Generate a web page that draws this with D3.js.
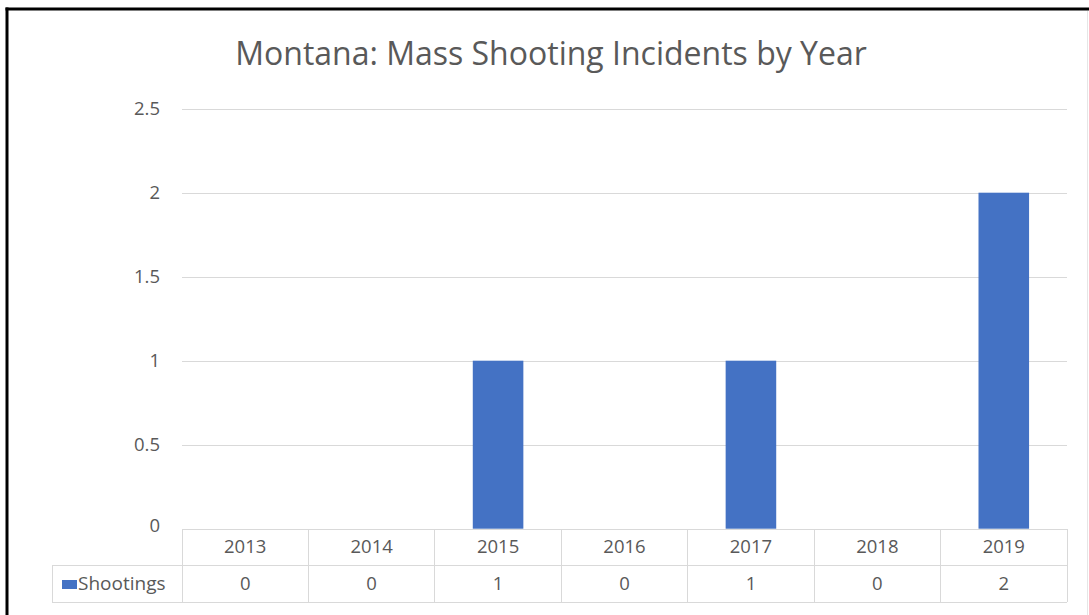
<!DOCTYPE html>
<html><head><meta charset="utf-8">
<script src="https://cdn.jsdelivr.net/npm/d3@7"></script>
<style>
html,body{margin:0;padding:0;background:#fff;}
svg{display:block;}
text{font-family:"Open Sans",sans-serif;fill:#595959;}
</style></head>
<body>
<script>
const title = "Montana: Mass Shooting Incidents by Year";
const years = ["2013","2014","2015","2016","2017","2018","2019"];
const shootings = [0,0,1,0,1,0,2];
const seriesName = "Shootings";
const yTicks = [0,0.5,1,1.5,2,2.5];

const W = 1089, H = 615;
const svg = d3.select("body").append("svg").attr("width",W).attr("height",H);
svg.append("rect").attr("width",W).attr("height",H).attr("fill","#fff");

// frame (screenshot border)
svg.append("line").attr("x1",5.5).attr("x2",W).attr("y1",9).attr("y2",9).attr("stroke","#000").attr("stroke-width",3);
svg.append("line").attr("x1",7).attr("x2",7).attr("y1",7.5).attr("y2",H).attr("stroke","#000").attr("stroke-width",3);
svg.append("line").attr("x1",1087.5).attr("x2",1087.5).attr("y1",11).attr("y2",H).attr("stroke","#e6e6e6").attr("stroke-width",1);

const pLeft = 182, pRight = 1067, pTop = 108.7, pBottom = 528.7;
const fs = 18.5;
const x = d3.scaleBand().domain(years).range([pLeft,pRight]).paddingInner(0.6).paddingOuter(0.3);
const xc = d3.scaleBand().domain(years).range([pLeft,pRight]);
const y = d3.scaleLinear().domain([0,2.5]).range([pBottom,pTop]);

// gridlines
svg.append("g").selectAll("line").data(yTicks.filter(d=>d>0)).join("line")
  .attr("x1",pLeft).attr("x2",pRight)
  .attr("y1",d=>Math.round(y(d))+0.5).attr("y2",d=>Math.round(y(d))+0.5)
  .attr("stroke","#d9d9d9").attr("stroke-width",1);

// y axis labels
const yAxis = d3.axisLeft(y).tickValues(yTicks).tickSize(0).tickPadding(0).tickFormat(d3.format("~g"));
const ga = svg.append("g").attr("transform",`translate(160,0)`).call(yAxis);
ga.select(".domain").remove();
ga.selectAll("text").attr("font-family","Open Sans, sans-serif").attr("font-size",fs).attr("fill","#5f5f5f")
  .attr("dy",(d)=>d===0?"0.15em":"0.32em");

// bars
svg.append("g").selectAll("rect").data(shootings).join("rect")
  .attr("x",(d,i)=>x(years[i])).attr("width",x.bandwidth())
  .attr("y",d=>y(d)).attr("height",d=>pBottom-y(d))
  .attr("fill","#4472c4");

// data table
const rowTop = 529, rowMid = 565, rowBot = 602, legLeft = 52;
const tg = svg.append("g").attr("stroke","#d9d9d9").attr("stroke-width",1).attr("shape-rendering","crispEdges");
tg.append("line").attr("x1",pLeft).attr("x2",pRight).attr("y1",rowTop).attr("y2",rowTop);
tg.append("line").attr("x1",legLeft).attr("x2",pRight).attr("y1",rowMid).attr("y2",rowMid);
tg.append("line").attr("x1",legLeft).attr("x2",pRight).attr("y1",rowBot).attr("y2",rowBot);
tg.append("line").attr("x1",legLeft).attr("x2",legLeft).attr("y1",rowMid).attr("y2",rowBot);
tg.selectAll(".v").data(years.concat(["end"])).join("line")
  .attr("x1",(d,i)=>pLeft+i*xc.step()).attr("x2",(d,i)=>pLeft+i*xc.step())
  .attr("y1",rowTop).attr("y2",rowBot);

svg.append("g").selectAll("text").data(years).join("text")
  .attr("x",d=>xc(d)+xc.bandwidth()/2).attr("y",(rowTop+rowMid)/2)
  .attr("dy","0.34em").attr("text-anchor","middle").attr("font-size",fs).text(d=>d);
svg.append("g").selectAll("text").data(shootings).join("text")
  .attr("x",(d,i)=>xc(years[i])+xc.bandwidth()/2).attr("y",(rowMid+rowBot)/2)
  .attr("dy","0.34em").attr("text-anchor","middle").attr("font-size",fs).text(d=>d);

// legend key
svg.append("rect").attr("x",62).attr("y",580).attr("width",15).attr("height",9).attr("fill","#4472c4");
svg.append("text").attr("x",78).attr("y",(rowMid+rowBot)/2).attr("dy","0.34em")
  .attr("font-size",fs+0.5).text(seriesName);

// title
svg.append("text").attr("x",551).attr("y",65).attr("text-anchor","middle")
  .attr("font-size",32).attr("fill","#595959").text(title);
</script>
</body></html>
